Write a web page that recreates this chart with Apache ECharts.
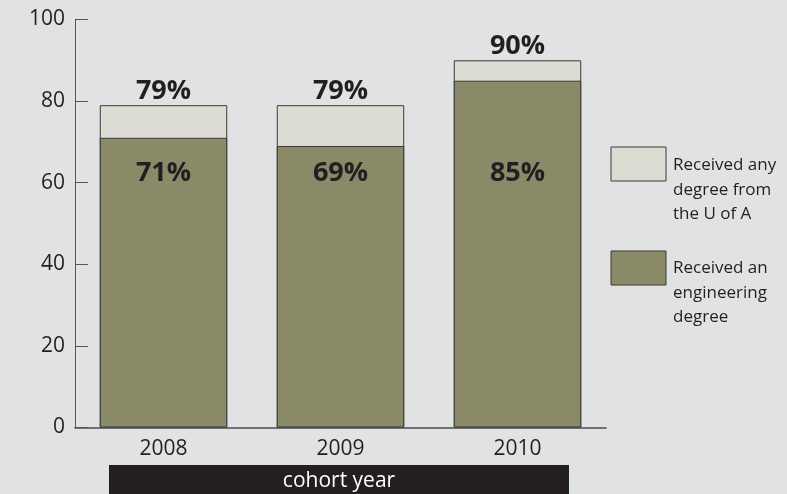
<!DOCTYPE html>
<html>
<head>
<meta charset="utf-8">
<script src="https://cdn.jsdelivr.net/npm/echarts@6/dist/echarts.min.js"></script>
<style>
  html, body { margin: 0; padding: 0; background: #e1e2e4; }
  #chart { width: 787px; height: 494px; }
</style>
</head>
<body>
<div id="chart"></div>
<script>
// Cohort years and graduation shares (percent)
const cohortYears = ['2008', '2009', '2010'];
const anyDegree = [79, 79, 90];          // received any degree from the U of A
const engineeringDegree = [71, 69, 85];  // received an engineering degree
const yTicks = [0, 20, 40, 60, 80, 100];
const axisTitle = 'cohort year';

const seriesNames = {
  any: 'Received any\ndegree from\nthe U of A',
  eng: 'Received an\nengineering\ndegree'
};

const COLOR_ANY = '#dcdcd2';
const COLOR_ENG = '#8a8a68';
const EDGE = '#3a3a3a';
const INK = '#231f20';
const FONT = '"Open Sans", "Noto Sans", sans-serif';

// level (in axis units) where the engineering percentages are written
const INNER_LABEL_LEVEL = 62.3;

const chart = echarts.init(document.getElementById('chart'));

chart.setOption({
  backgroundColor: '#e1e2e4',
  animation: false,
  textStyle: { fontFamily: FONT },
  grid: { left: 75, right: 181, top: 19.5, bottom: 66.5, containLabel: false, outerBoundsMode: 'none' },
  xAxis: {
    type: 'category',
    data: cohortYears,
    boundaryGap: true,
    axisLine: { lineStyle: { color: '#4d4d4d', width: 1.5 } },
    axisTick: { inside: true, length: 10, lineStyle: { color: '#4d4d4d', width: 1.5 } },
    axisLabel: { margin: 11, fontSize: 21, color: INK, fontFamily: FONT }
  },
  yAxis: {
    type: 'value',
    min: yTicks[0],
    max: yTicks[yTicks.length - 1],
    interval: yTicks[1] - yTicks[0],
    axisLine: { show: true, lineStyle: { color: '#555555', width: 1 } },
    axisTick: { show: true, inside: true, length: 13, lineStyle: { color: '#555555', width: 1 } },
    axisLabel: { margin: 10, fontSize: 21, color: INK, fontFamily: FONT },
    splitLine: { show: false }
  },
  series: [
    {
      name: 'any',
      type: 'bar',
      data: anyDegree,
      barWidth: '72%',
      itemStyle: { color: COLOR_ANY, borderColor: EDGE, borderWidth: 1 },
      label: {
        show: true,
        position: 'top',
        distance: 0,
        formatter: p => p.value + '%',
        fontSize: 27,
        fontWeight: 'bold',
        color: INK,
        fontFamily: FONT
      },
      z: 2
    },
    {
      name: 'eng',
      type: 'bar',
      data: engineeringDegree,
      barWidth: '72%',
      barGap: '-100%',
      itemStyle: { color: COLOR_ENG, borderColor: EDGE, borderWidth: 1 },
      z: 3
    },
    {
      // percentages written inside the engineering bars
      name: 'engLabels',
      type: 'scatter',
      symbolSize: 0,
      silent: true,
      itemStyle: { opacity: 1 },
      data: cohortYears.map((y, i) => [y, INNER_LABEL_LEVEL, engineeringDegree[i]]),
      label: {
        show: true,
        position: 'inside',
        formatter: p => p.value[2] + '%',
        fontSize: 27,
        fontWeight: 'bold',
        color: INK,
        opacity: 1,
        fontFamily: FONT
      },
      z: 5
    }
  ],
  graphic: [
    {
      // axis title band under the years
      type: 'rect',
      shape: { x: 109, y: 465, width: 460, height: 30 },
      style: { fill: INK }
    },
    {
      type: 'text',
      x: 339, y: 481,
      style: { text: axisTitle, fill: '#ffffff', font: '21px ' + FONT, align: 'center', verticalAlign: 'middle' }
    },
    {
      type: 'rect',
      shape: { x: 611, y: 147, width: 55, height: 34 },
      style: { fill: COLOR_ANY, stroke: EDGE, lineWidth: 1 }
    },
    {
      type: 'text',
      x: 673, y: 153,
      style: { text: seriesNames.any, fill: INK, font: '17px ' + FONT, lineHeight: 24.5 }
    },
    {
      type: 'rect',
      shape: { x: 611, y: 251, width: 55, height: 34 },
      style: { fill: COLOR_ENG, stroke: EDGE, lineWidth: 1 }
    },
    {
      type: 'text',
      x: 673, y: 256,
      style: { text: seriesNames.eng, fill: INK, font: '17px ' + FONT, lineHeight: 24.5 }
    }
  ]
});
</script>
</body>
</html>
